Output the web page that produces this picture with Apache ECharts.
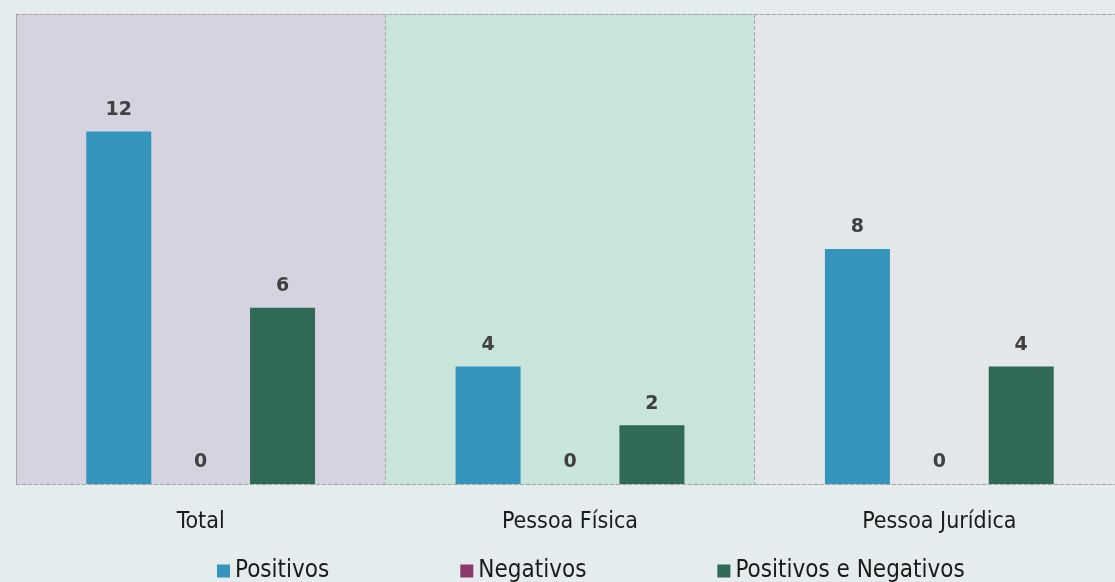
<!DOCTYPE html>
<html><head><meta charset="utf-8">
<script src="https://cdn.jsdelivr.net/npm/echarts@6/dist/echarts.min.js"></script>
<style>html,body{margin:0;padding:0;background:#e5ecee;overflow:hidden;width:1115px;height:582px;}#c{width:1124px;height:582px;}</style>
</head><body><div id="c"></div>
<script>
const categories = ['Total', 'Pessoa Física', 'Pessoa Jurídica'];
const positivos = [12, 4, 8];
const negativos = [0, 0, 0];
const positivosENegativos = [6, 2, 4];
const seriesNames = ['Positivos', 'Negativos', 'Positivos e Negativos'];
const yMax = 16;

const font = "'Liberation Sans Narrow', 'DejaVu Sans Condensed', 'Liberation Sans', sans-serif";
const labelCfg = {show: true, position: 'top', distance: 12, color: '#404040', fontWeight: 'bold', fontSize: 19, fontFamily: 'DejaVu Sans'};
const chart = echarts.init(document.getElementById('c'));
chart.setOption({
  backgroundColor: '#e5ecee',
  animation: false,
  grid: {left: 16, top: 14, right: 0, bottom: 98},
  legend: {
    left: 212, top: 554, itemWidth: 13, itemHeight: 13, itemGap: 131,
    icon: 'rect',
    textStyle: {fontFamily: font, fontSize: 24, color: '#1a1a1a'},
    data: seriesNames
  },
  xAxis: [{
    type: 'category', data: categories,
    axisLine: {show: true, lineStyle: {color: '#a6a6a6', type: 'dashed', width: 1}},
    axisTick: {show: false},
    axisLabel: {fontFamily: font, fontSize: 23, color: '#1a1a1a', margin: 27},
    splitLine: {show: true, interval: 0, lineStyle: {color: '#a6a6a6', type: 'dashed'}},
    splitArea: {show: true, interval: 0, areaStyle: {color: ['#d5d3df', '#c8e4db', '#e3e7e9']}}
  }, {
    type: 'category', data: categories, position: 'top',
    axisLine: {show: true, lineStyle: {color: '#a6a6a6', type: 'dashed', width: 1}},
    axisTick: {show: false}, axisLabel: {show: false}
  }],
  yAxis: {
    type: 'value', min: 0, max: yMax,
    axisLine: {show: true, lineStyle: {color: '#a6a6a6', type: 'dashed'}},
    axisLabel: {show: false}, axisTick: {show: false}, splitLine: {show: false}
  },
  series: [
    {name: seriesNames[0], type: 'bar', data: positivos, barWidth: 65, barGap: '26%', itemStyle: {color: '#3494bb'}, label: labelCfg},
    {name: seriesNames[1], type: 'bar', data: negativos, barWidth: 65, barGap: '26%', itemStyle: {color: '#8b3a6e'}, label: labelCfg},
    {name: seriesNames[2], type: 'bar', data: positivosENegativos, barWidth: 65, barGap: '26%', itemStyle: {color: '#306955'}, label: labelCfg}
  ]
});
</script></body></html>
